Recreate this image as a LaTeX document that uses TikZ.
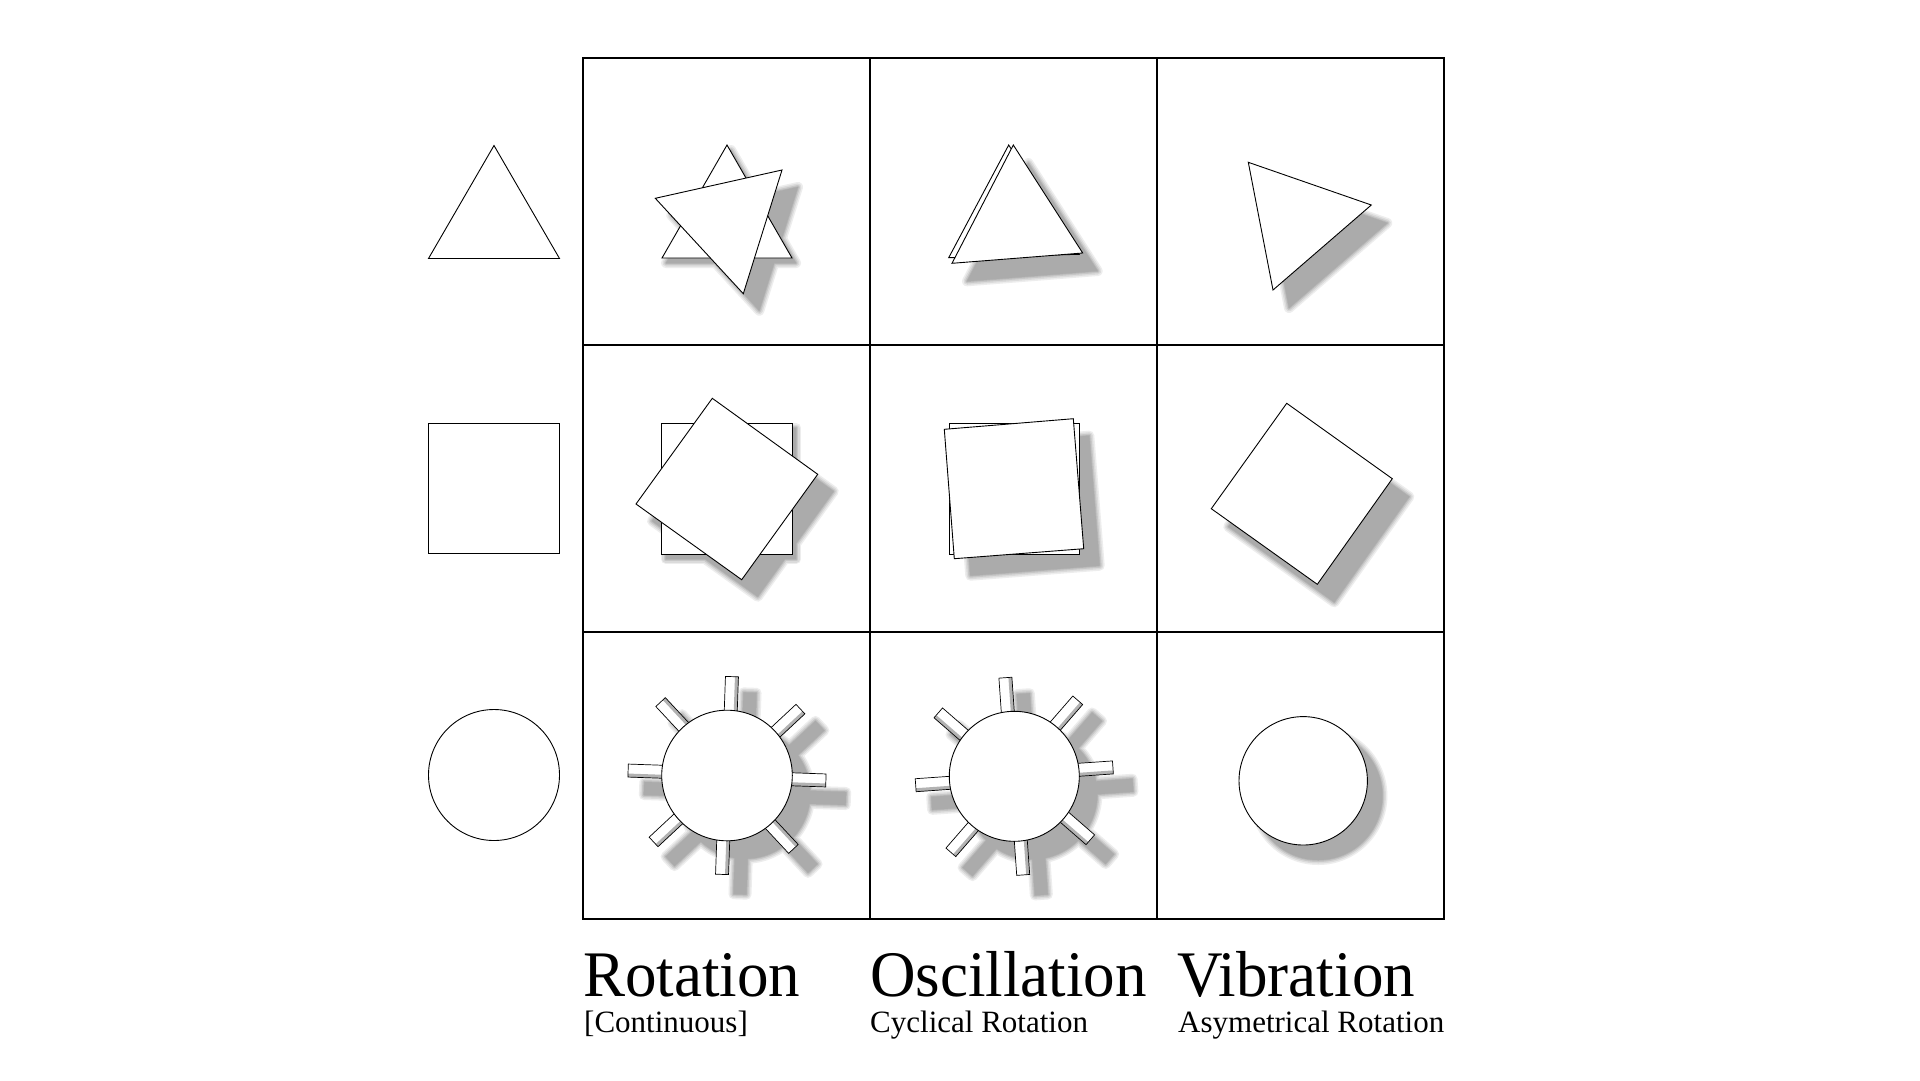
\documentclass[tikz,border=0pt]{standalone}
\usepackage{fontspec}
\setmainfont{Liberation Serif}
\newfontfamily\capfont{Liberation Serif}
\usetikzlibrary{calc}
\tikzset{
  outl/.style={draw=black, line width=0.9pt, fill=white},
  gridline/.style={draw=black, line width=1.3pt},
  tabshape/.style={draw=black, line width=0.7pt},
  tabshade/.style={fill=black!30},
  title/.style={anchor=base west, inner sep=0pt, font=\capfont\fontsize{65}{78}\selectfont, xscale=0.97},
  subtitle/.style={anchor=base west, inner sep=0pt, font=\capfont\fontsize{31}{37}\selectfont},
}
% layered soft shadow (union of all given paths)
\newcommand\castshadow[1]{%
  \foreach \lw/\sc in {10/7,7/14,4/22,1.5/29}{%
    \tikzset{shd/.style={draw=black!\sc,fill=black!\sc,line width=\lw pt,line join=round}}%
    #1%
  }%
  \tikzset{shd/.style={fill=black!33}}#1%
}
% tab shadows: #1,#2 centre, #3 tilt, #4 offset
\newcommand\tabpolys[4]{%
  \foreach \a in {0,45,...,315}{%
    \pgfmathsetmacro\p{\a+(#3)}%
    \begin{scope}[shift={(#1,#2)}, rotate=-\p]
      \path[shd] (48,#4-6.5) rectangle (101,#4+6.5);
    \end{scope}}}
% real tabs
\newcommand\realtabs[4]{%
  \foreach \a in {0,45,...,315}{%
    \pgfmathsetmacro\p{\a+(#3)}%
    \pgfmathsetmacro\s{cos(\p+45)>=0?1:-1}%
    \begin{scope}[shift={(#1,#2)}, rotate=-\p]
      \path[fill=white] (48,#4-6.5) rectangle (99,#4+6.5);
      \path[tabshade] (48,#4+\s*3) rectangle (99,#4+\s*6.5);
      \draw[tabshape] (48,#4-6.5) rectangle (99,#4+6.5);
    \end{scope}}}
\def\triL{(494,145.5)--(428.5,258.5)--(559.5,258.5)--cycle}
\def\sqL{(428.5,423.5) rectangle (559.5,553.5)}
\def\triA{(727,145)--(662,258)--(792,258)--cycle}
\def\triB{(655.3,198.3)--(782,170)--(743.3,293.7)--cycle}
\def\triC{(1008.7,145)--(948.7,257.7)--(1079.3,254.3)--cycle}
\def\triD{(1013.3,145)--(952,263.3)--(1082.7,253)--cycle}
\def\triE{(1248.3,162.3)--(1371.3,205)--(1273,290)--cycle}
\def\sqA{(661.7,423) rectangle (792.3,554)}
\def\sqB{(712.3,398.3)--(817.7,474.3)--(741.7,579.7)--(636,504)--cycle}
\def\sqC{(949.3,423) rectangle (1079.3,554.3)}
\def\sqD{(944.3,429.3)--(1073.3,418.7)--(1083.7,548.7)--(954.3,558.7)--cycle}
\def\sqE{(1286.7,403.3)--(1392.3,478.7)--(1317.3,584.3)--(1211.3,508.7)--cycle}
\begin{document}
\begin{tikzpicture}[x=1pt,y=-1pt]
\fill[white] (0,0) rectangle (1920,1080);
\useasboundingbox (0,0) rectangle (1920,1080);

% shadows
\castshadow{%
  \path[shd,shift={(4,5)}] \triA;
  \path[shd,shift={(16,17)}] \triB;
  \path[shd,shift={(15,18)}] \triD;
  \path[shd,shift={(16,18)}] \triE;
  \path[shd,shift={(4,5)}] \sqA;
  \path[shd,shift={(16,17)}] \sqB;
  \path[shd,shift={(16,17)}] \sqD;
  \path[shd,shift={(17,18)}] \sqE;
  \path[shd,shift={(18,18)}] (727,775.5) circle (65.3);
  \tabpolys{745}{793.5}{2}{1.5}%
  \path[shd,shift={(18,18)}] (1014.3,776.3) circle (65);
  \tabpolys{1032.3}{794.3}{-4}{-2}%
  \path[shd,shift={(15,15)}] (1303.2,780.8) circle (64.2);
}

% left column: original shapes
\draw[outl] \triL;
\draw[outl] \sqL;
\draw[outl] (494,775) circle (65.5);

% row 1
\draw[outl] \triA;
\draw[outl] \triB;
\draw[outl] \triC;
\draw[outl] \triD;
\draw[outl] \triE;

% row 2
\draw[outl] \sqA;
\draw[outl] \sqB;
\draw[outl] \sqC;
\draw[outl] \sqD;
\draw[outl] \sqE;

% row 3
\realtabs{727}{775.5}{2}{1.5}
\draw[outl] (727,775.5) circle (65.3);
\realtabs{1014.3}{776.3}{-4}{-2}
\draw[outl] (1014.3,776.3) circle (65);
\draw[outl] (1303.2,780.8) circle (64.2);

% grid
\draw[gridline] (583,58) rectangle (1444,919);
\draw[gridline] (870,58) -- (870,919);
\draw[gridline] (1157,58) -- (1157,919);
\draw[gridline] (583,345) -- (1444,345);
\draw[gridline] (583,632) -- (1444,632);

% labels
\node[title] (rot) at (583,996) {Rotation};
\node[title] (osc) at (870,996) {Oscillation};
\node[title] (vib) at (1177,996) {Vibration};
\node[subtitle] (rots) at (584,1032) {[Continuous]};
\node[subtitle] (oscs) at (870,1032) {Cyclical Rotation};
\node[subtitle] (vibs) at (1178,1032) {Asymetrical Rotation};
\end{tikzpicture}
\end{document}
